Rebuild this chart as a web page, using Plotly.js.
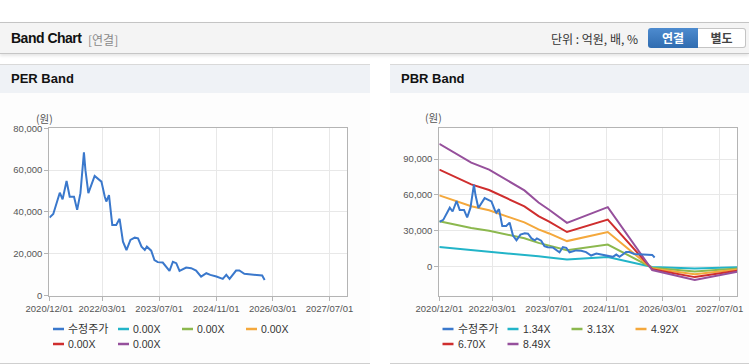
<!DOCTYPE html>
<html><head><meta charset="utf-8">
<script src="https://cdn.plot.ly/plotly-3.0.1.min.js"></script>
<style>
body{margin:0;width:749px;height:364px;overflow:hidden;background:#fff;font-family:"Liberation Sans","Noto Sans CJK KR",sans-serif;position:relative}
.abs{position:absolute}
#topbar{left:0;top:22px;width:749px;height:30px;background:#f4f4f4;border-top:1px solid #c4c4c4;border-bottom:1px solid #c6c6c6;box-shadow:0 2px 3px rgba(0,0,0,0.10)}
#title{left:11px;top:30px;font-size:14px;font-weight:bold;color:#111;letter-spacing:-0.5px}
#sub{left:88px;top:31px;font-size:12px;color:#8a8a8a;font-family:"Noto Sans CJK KR",sans-serif}
#unit{left:551px;top:30px;font-size:12px;color:#333;font-family:"Noto Sans CJK KR",sans-serif}
#b1{left:648px;top:28px;width:50px;height:20px;border-radius:3px 0 0 3px;background:linear-gradient(#4d8bcf,#2f6cb0);color:#fff;font-weight:bold;font-size:12px;text-align:center;line-height:20px;font-family:"Noto Sans CJK KR",sans-serif}
#b2{left:698px;top:28px;width:47px;height:18px;border:1px solid #c4c4c4;border-left:none;border-radius:0 3px 3px 0;background:#fff;color:#444;font-weight:bold;font-size:12px;text-align:center;line-height:18px;font-family:"Noto Sans CJK KR",sans-serif}
.panel{top:64px;height:298px;border-top:1px solid #d9d9d9;border-bottom:1px solid #cfcfcf;background:#fdfdfd}
.phead{top:65px;height:28px;background:#eff2f6}
.ptitle{top:71px;font-size:13px;font-weight:bold;color:#111}
#plot{left:0;top:0;width:749px;height:364px}
</style></head>
<body>
<div id="topbar" class="abs"></div>
<div id="title" class="abs">Band Chart</div>
<div id="sub" class="abs">[연결]</div>
<div id="unit" class="abs">단위 : 억원, 배, %</div>
<div id="b1" class="abs">연결</div>
<div id="b2" class="abs">별도</div>
<div class="abs panel" style="left:0;width:370px"></div>
<div class="abs panel" style="left:390px;width:359px"></div>
<div class="abs phead" style="left:0;width:370px"></div>
<div class="abs phead" style="left:390px;width:359px"></div>
<div class="abs ptitle" style="left:11px">PER Band</div>
<div class="abs ptitle" style="left:401px">PBR Band</div>
<div id="plot" class="abs"></div>
<script>
// ---- data ----
const xTickVals = ['2020-12-01','2022-03-01','2023-07-01','2024-11-01','2026-03-01','2027-07-01'];
const xTickText = ['2020/12/01','2022/03/01','2023/07/01','2024/11/01','2026/03/01','2027/07/01'];
const perYTicks = [0,20000,40000,60000,80000];
const pbrYTicks = [0,30000,60000,90000];

const priceDates = ['2020-12-03','2021-01-04','2021-03-01','2021-03-25','2021-04-28','2021-05-25','2021-07-01','2021-07-28','2021-08-25','2021-09-24','2021-10-07','2021-11-01','2021-12-25','2022-02-21','2022-03-22','2022-04-04','2022-04-27','2022-05-25','2022-06-28','2022-07-27','2022-08-25','2022-09-24','2022-10-28','2022-12-04','2023-01-01','2023-01-31','2023-02-28','2023-03-18','2023-04-24','2023-05-22','2023-06-19','2023-08-01','2023-09-28','2023-10-27','2023-11-25','2023-12-23','2024-02-18','2024-04-01','2024-05-13','2024-06-25','2024-08-09','2024-09-12','2024-11-03','2024-11-16','2024-12-28','2025-01-27','2025-02-24','2025-04-21','2025-05-19','2025-07-01','2025-09-25','2025-12-01','2025-12-22'];
const priceValues = [37300,39000,49200,46000,54800,47300,47300,41000,49000,68500,60000,49000,57200,54500,47300,45000,48000,33800,33800,36700,25800,21800,26600,27700,27400,23400,21800,23400,21500,17000,16000,15800,11800,16200,15500,11800,13400,13100,12000,9100,10700,9900,9100,8800,8000,9900,8000,12000,12000,10400,9900,9600,7500];

const bandDates = ['2020-12-01','2021-09-01','2022-02-01','2022-12-01','2023-04-01','2023-07-01','2023-12-01','2024-11-15','2025-12-01','2026-12-01','2027-12-01'];
const band134 = [16200,13700,12800,10100,8400,7500,5800,7800,-500,-1800,-700];
const band313 = [37900,32100,29900,23500,19700,17500,13500,18300,-1100,-4200,-1700];
const band492 = [59500,50400,47000,36900,31000,27600,21200,28800,-1800,-6600,-2600];
const band670 = [81100,68700,64000,50300,42200,37500,28800,39200,-2400,-9000,-3600];
const band849 = [102700,87000,81100,63700,53500,47500,36500,49700,-3100,-11500,-4500];

const perLegend = ['수정주가','0.00X','0.00X','0.00X','0.00X','0.00X'];
const pbrLegend = ['수정주가','1.34X','3.13X','4.92X','6.70X','8.49X'];
const seriesColors = ['#3a78cc','#22b4c8','#8cb84e','#f4a83c','#cf2e2e','#96509c'];

// ---- layout helpers ----
const W = 749, H = 364;
const px = x => x / W, py = y => 1 - y / H;

function xa(domain, anchor){
  return {type:'date', domain:domain, anchor:anchor, range:['2020-12-01','2027-12-01'],
    tickmode:'array', tickvals:xTickVals, ticktext:xTickText,
    showgrid:true, gridcolor:'#e8e8e8', gridwidth:1,
    showline:true, linecolor:'#b4b4b4', linewidth:1, mirror:true,
    ticks:'outside', ticklen:4, tickcolor:'#b4b4b4',
    tickfont:{size:9.5, color:'#555', family:'Liberation Sans, sans-serif'},
    zeroline:false, fixedrange:true};
}
function ya(domain, anchor, range, tv){
  return {domain:domain, anchor:anchor, range:range, tickmode:'array', tickvals:tv,
    tickformat:',d', showgrid:true, gridcolor:'#e8e8e8',
    showline:true, linecolor:'#b4b4b4', linewidth:1, mirror:true,
    ticks:'outside', ticklen:4, tickcolor:'#b4b4b4',
    tickfont:{size:9.5, color:'#555', family:'Liberation Sans, sans-serif'},
    zeroline:false, fixedrange:true};
}

const yDom = [py(295.6), py(128.3)];
const traces = [
  {x:priceDates, y:priceValues, xaxis:'x', yaxis:'y', mode:'lines', line:{color:seriesColors[0], width:2}},
  {x:bandDates, y:band134, xaxis:'x2', yaxis:'y2', mode:'lines', line:{color:seriesColors[1], width:2}},
  {x:bandDates, y:band313, xaxis:'x2', yaxis:'y2', mode:'lines', line:{color:seriesColors[2], width:2}},
  {x:bandDates, y:band492, xaxis:'x2', yaxis:'y2', mode:'lines', line:{color:seriesColors[3], width:2}},
  {x:bandDates, y:band670, xaxis:'x2', yaxis:'y2', mode:'lines', line:{color:seriesColors[4], width:2}},
  {x:bandDates, y:band849, xaxis:'x2', yaxis:'y2', mode:'lines', line:{color:seriesColors[5], width:2}},
  {x:priceDates, y:priceValues, xaxis:'x2', yaxis:'y2', mode:'lines', line:{color:seriesColors[0], width:2}}
];

const shapes = [], annotations = [];
function legend(labels, x0){
  const offs = [[0,329],[65,329],[129,329],[193,329],[0,344],[65,344]];
  labels.forEach((t,i)=>{
    const lx = x0 + offs[i][0], ly = offs[i][1];
    shapes.push({type:'line', xref:'paper', yref:'paper', x0:px(lx), x1:px(lx+11), y0:py(ly), y1:py(ly),
      line:{color:seriesColors[i], width:2.5}});
    annotations.push({xref:'paper', yref:'paper', x:px(lx+13), y:py(ly), xanchor:'left', yanchor:'middle',
      text:t, showarrow:false, font:{size:i===0?11:10.5, color:'#333', family:'Liberation Sans, Noto Sans CJK KR, sans-serif'}});
  });
}
legend(perLegend, 53);
legend(pbrLegend, 442.5);
annotations.push({xref:'paper', yref:'paper', x:px(44), y:py(119), xanchor:'center', yanchor:'middle', text:'(원)', showarrow:false, font:{size:10.5, color:'#555', family:'Noto Sans CJK KR, sans-serif'}});
annotations.push({xref:'paper', yref:'paper', x:px(434), y:py(118), xanchor:'center', yanchor:'middle', text:'(원)', showarrow:false, font:{size:10.5, color:'#555', family:'Noto Sans CJK KR, sans-serif'}});

const layout = {
  width:W, height:H, margin:{l:0,r:0,t:0,b:0},
  paper_bgcolor:'rgba(0,0,0,0)', plot_bgcolor:'#ffffff',
  showlegend:false, hovermode:false,
  xaxis: xa([px(49.3), px(347.3)], 'y'),
  yaxis: ya(yDom, 'x', [0,80000], perYTicks),
  xaxis2: xa([px(439.3), px(737.3)], 'y2'),
  yaxis2: ya(yDom, 'x2', [-24500,115750], pbrYTicks),
  shapes:shapes, annotations:annotations
};
Plotly.newPlot('plot', traces, layout, {staticPlot:true, displayModeBar:false});
</script>
</body></html>
